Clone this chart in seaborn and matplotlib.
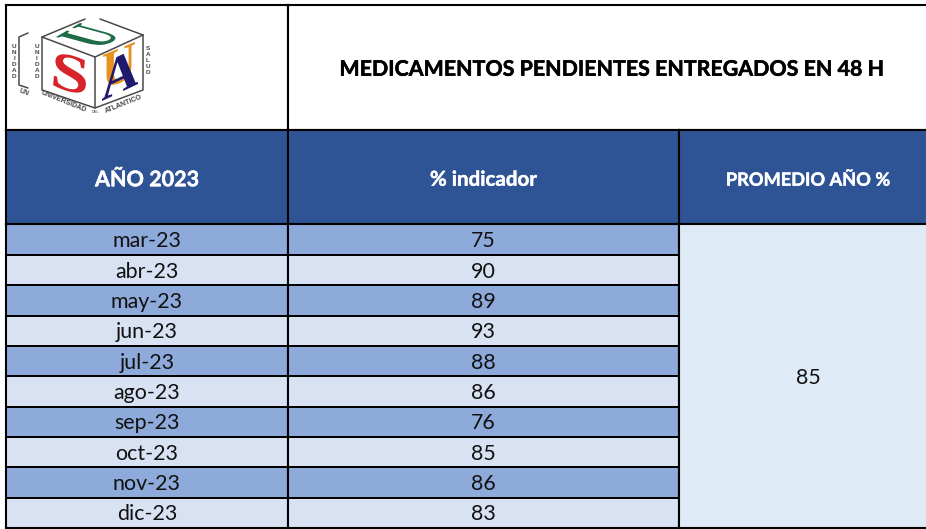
import numpy as np
import pandas as pd
import seaborn as sns
import matplotlib
matplotlib.use('Agg')
import matplotlib.pyplot as plt
import matplotlib.patheffects as pe
from matplotlib.colors import ListedColormap
from matplotlib.patches import PathPatch
from matplotlib.textpath import TextPath
from matplotlib.font_manager import FontProperties
from matplotlib.transforms import Affine2D

months = ['mar-23', 'abr-23', 'may-23', 'jun-23', 'jul-23', 'ago-23', 'sep-23', 'oct-23', 'nov-23', 'dic-23']
indicador = [75, 90, 89, 93, 88, 86, 76, 85, 86, 83]
promedio = 85
title = 'MEDICAMENTOS PENDIENTES ENTREGADOS EN 48 H'
head_year = 'AÑO 2023'
head_ind = '% indicador'
head_prom = 'PROMEDIO AÑO %'

W, H = 926, 529
HEADER = '#2F5496'
DARK = '#8EAADB'
LIGHT = '#D9E2F3'
PALE = '#DEEAF6'
LW = 1.3

sns.set_theme(style='white')
plt.rcParams['font.family'] = ['Lato', 'DejaVu Sans']

fig = plt.figure(figsize=(W / 100, H / 100), dpi=100, facecolor='white')


def block(x0, y0, x1, y1, labels, colors, size, color='#111111', weight='normal', thick=0, drop=2.5):
    # one column of cells, pixel box measured from the top left
    ax = fig.add_axes([x0 / W, 1 - y1 / H, (x1 - x0) / W, (y1 - y0) / H])
    stripes = pd.DataFrame({'c': np.arange(len(labels)) % len(colors)})
    sns.heatmap(stripes, ax=ax, cmap=ListedColormap(colors), vmin=0, vmax=max(len(colors) - 1, 1),
                cbar=False, annot=np.array(labels).reshape(-1, 1), fmt='',
                annot_kws={'size': size, 'color': color, 'weight': weight},
                linewidths=LW, linecolor='black', xticklabels=False, yticklabels=False)
    for s in ax.spines.values():
        s.set_visible(True)
        s.set_linewidth(LW + 0.2)
        s.set_color('black')
    for t in ax.texts:
        # Lato sits higher in its box than the original font
        t.set_transform(t.get_transform() + Affine2D().translate(0, -drop))
        if thick:
            t.set_path_effects([pe.withStroke(linewidth=thick, foreground=color)])
    return ax


block(6, 4.5, 288, 130, [''], ['white'], 10)
block(288, 4.5, 937, 130, [title], ['white'], 15.4, 'black', 'bold', 0.35)
block(6, 130, 288, 224.5, [head_year], [HEADER], 15.5, 'white', 'bold', 0.3)
block(288, 130, 679, 224.5, [head_ind], [HEADER], 14.8, 'white', 'bold', 0.3)
block(679, 130, 937, 224.5, [head_prom], [HEADER], 13.1, 'white', 'bold', 0.3)
block(6, 224.5, 288, 528, months, [DARK, LIGHT], 15.4, drop=1.5)
block(288, 224.5, 679, 528, [str(v) for v in indicador], [DARK, LIGHT], 15.4, drop=1.5)
block(679, 224.5, 937, 528, [str(promedio)], [PALE], 15.4, drop=1.5)

# logo, pixel coordinates
logo = fig.add_axes([0, 0, 1, 1], zorder=10)
logo.set_xlim(0, W)
logo.set_ylim(H, 0)
logo.axis('off')
logo.patch.set_alpha(0)


def glyph(ch, origin, u, v, color):
    fp = FontProperties(family='Liberation Serif', weight='bold')
    path = TextPath((0, 0), ch, size=1, prop=fp)
    box = path.get_extents()
    norm = Affine2D().translate(-box.x0, -box.y0).scale(1 / box.width, 1 / box.height)
    warp = Affine2D(np.array([[u[0], v[0], origin[0]], [u[1], v[1], origin[1]], [0, 0, 1]], dtype=float))
    logo.add_patch(PathPatch(path, transform=norm + warp + logo.transData, fc=color, ec='none'))


edge = '#4a4a4a'
for xs, ys in [([42, 85], [37, 19]), ([100, 143], [19, 35]), ([42, 95, 143], [37, 57, 35]),
               ([95, 95], [57, 108]), ([42, 42, 95, 143, 143], [37, 90, 108, 90, 35]),
               ([28, 19, 19, 28], [33, 37, 85, 88])]:
    logo.plot(xs, ys, color=edge, lw=1.1, solid_capstyle='round')

glyph('S', (53, 87), (32, 9), (3, -36), '#D8232A')
glyph('U', (100, 49), (24, -14), (-44, -12), '#1E6B45')
glyph('U', (103, 90), (32, -13), (0, -35), '#E8921E')
glyph('A', (102, 101), (36, -17), (0, -37), '#1F1A6E')

for x, y, txt in [(14, 62, 'UNIDAD'), (37, 62, 'UNIDAD'), (148, 61, 'SALUD')]:
    logo.text(x, y, '\n'.join(txt), ha='center', va='center', fontsize=4.6, color='#444444', linespacing=1.25,
              family='Liberation Sans', weight='bold')
logo.text(64, 102, 'UNIVERSIDAD', rotation=-22, ha='center', va='center', fontsize=5.0, color='#444444',
          family='Liberation Sans', weight='bold')
logo.text(124, 104, 'ATLANTICO', rotation=22, ha='center', va='center', fontsize=5.0, color='#444444',
          family='Liberation Sans', weight='bold')
logo.text(95, 112, 'DEL', ha='center', va='center', fontsize=2.8, color='#444444', family='Liberation Sans')
logo.text(24, 93, 'UN', rotation=-22, ha='center', va='center', fontsize=5.0, color='#444444',
          family='Liberation Sans', weight='bold')

fig.savefig('out.png', dpi=100)
